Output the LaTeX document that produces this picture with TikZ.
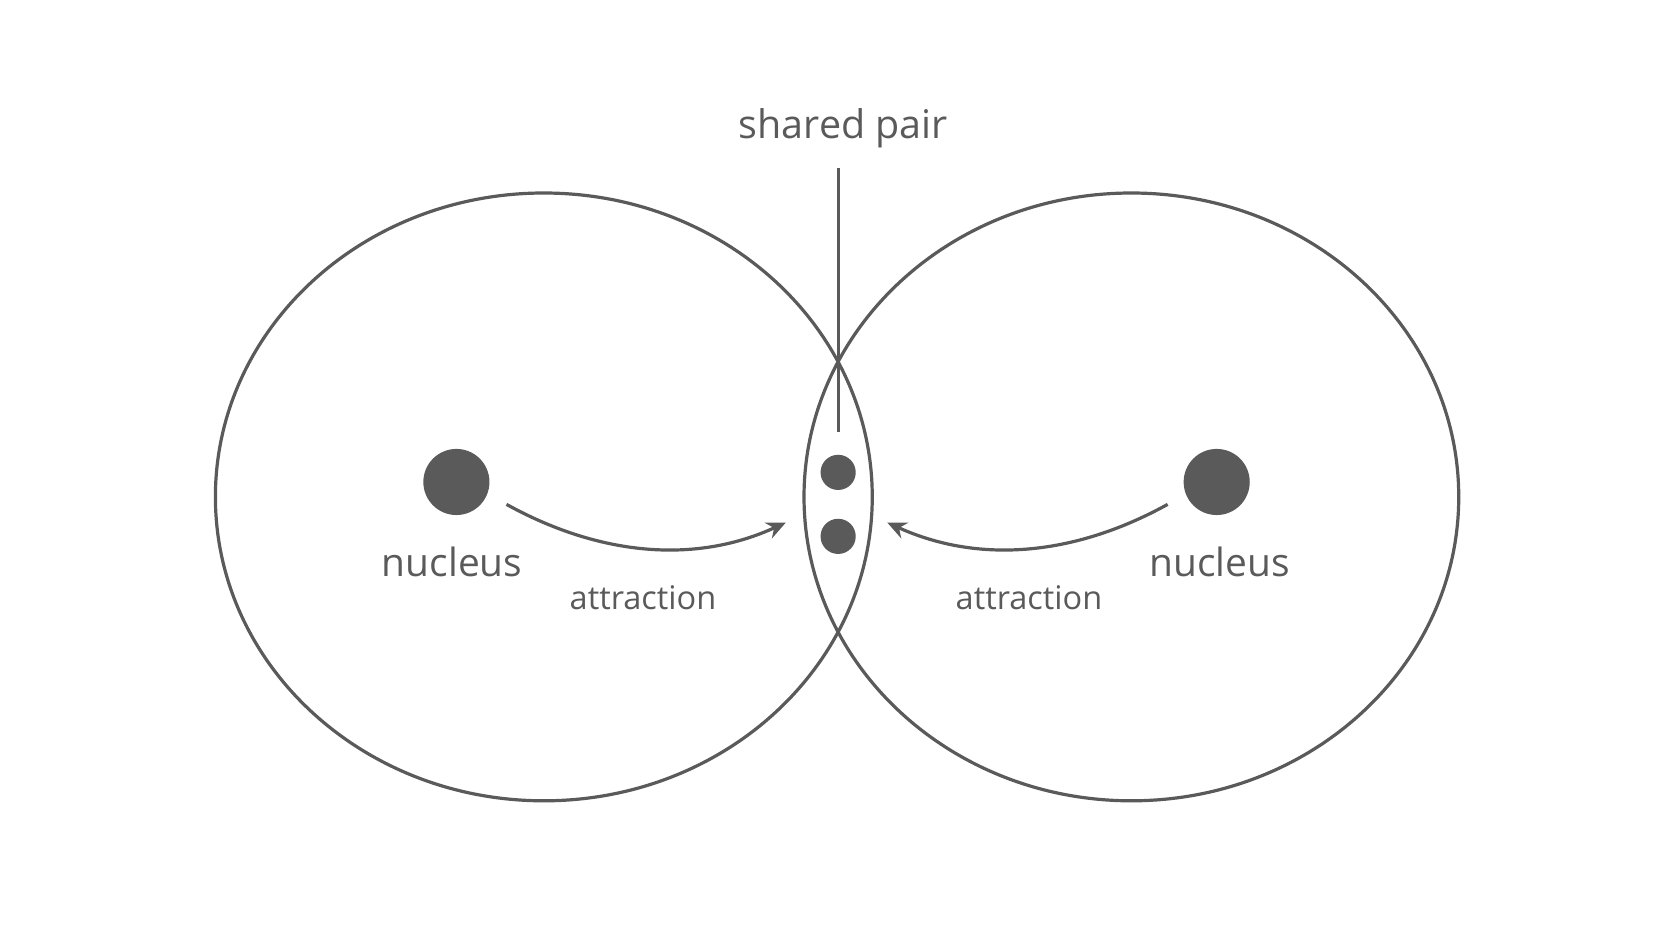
\documentclass[tikz,border=0pt]{standalone}
\usepackage{fontspec}
\setmainfont{Open Sans}
\usetikzlibrary{arrows.meta}
\definecolor{ink}{HTML}{5A5A5A}
\begin{document}
\begin{tikzpicture}[x=1pt,y=-1pt,
  ring/.style={draw=ink,line width=3pt},
  dot/.style={circle,fill=ink,inner sep=0pt},
  lab/.style={text=ink,font=\fontsize{36.5}{42}\selectfont},
  slab/.style={text=ink,font=\fontsize{30.5}{36}\selectfont},
  arr/.style={draw=ink,line width=3pt,-{Stealth[length=18pt,width=16pt]}}]
\useasboundingbox[fill=white] (0,0) rectangle (1568,882);
\draw[ring] (510,466) ellipse [x radius=308, y radius=285];
\draw[ring] (1061,466) ellipse [x radius=307, y radius=285];
\node[dot,minimum size=62pt] (n1) at (428,452) {};
\node[dot,minimum size=62pt] (n2) at (1141,452) {};
\node[dot,minimum size=33pt] (e1) at (786,443) {};
\node[dot,minimum size=33pt] (e2) at (786,503) {};
\node[lab] (l1) at (424,527) {nucleus};
\node[lab] (l2) at (1144,527) {nucleus};
\node[slab] (a1) at (603,561) {attraction};
\node[slab] (a2) at (965,561) {attraction};
\node[slab,font=\fontsize{37}{42}\selectfont] (sp) at (791,120) {shared pair};
\coordinate (t1) at (786,158);
\coordinate (t2) at (786,405);
\draw[ink,line width=3pt] (t1) -- (t2);
\coordinate (s1) at (475,473); \coordinate (f1) at (737,490);
\coordinate (s2) at (1095,473); \coordinate (f2) at (832,490);
\draw[arr] (s1) .. controls (560,520) and (650,530) .. (f1);
\draw[arr] (s2) .. controls (1010,520) and (920,530) .. (f2);
\end{tikzpicture}
\end{document}
